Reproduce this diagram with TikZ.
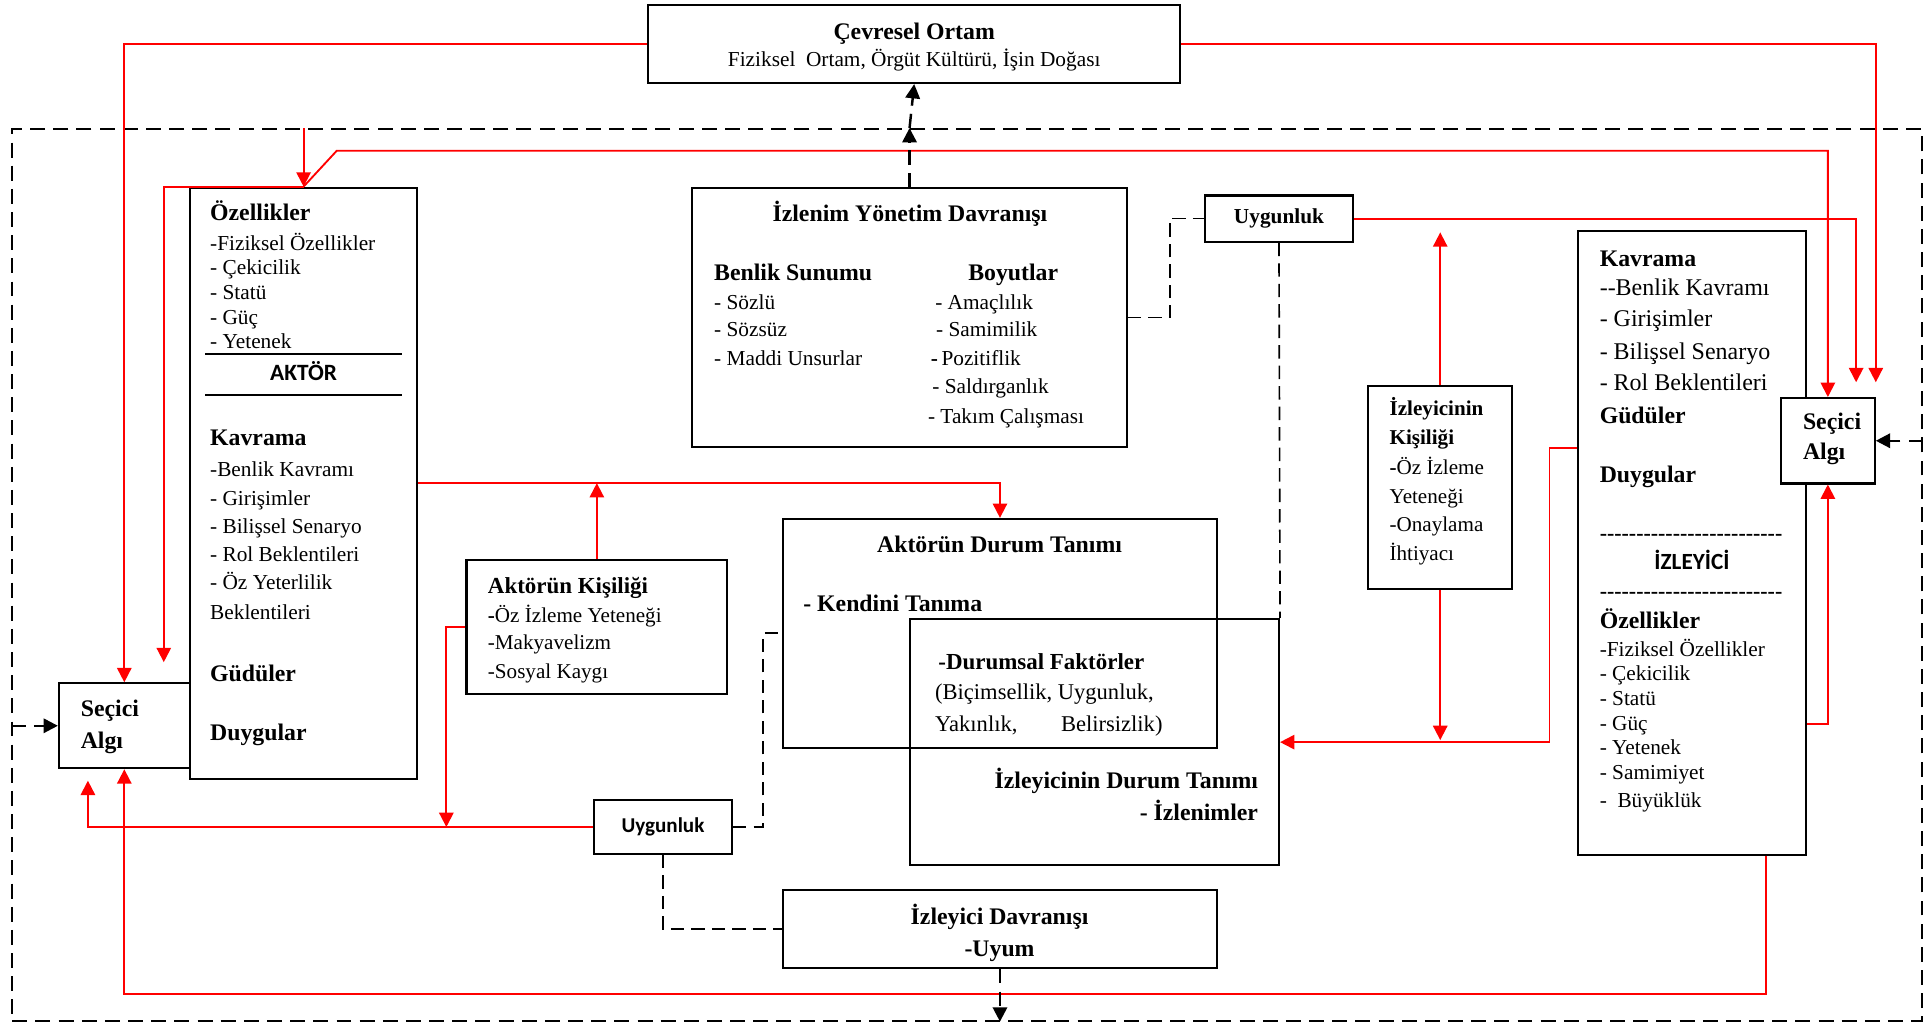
\documentclass[tikz,border=0pt]{standalone}
\usepackage{fontspec}
\setmainfont{Liberation Serif}
\newfontfamily\calfont{Carlito}
\usetikzlibrary{arrows.meta}
\begin{document}
\begin{tikzpicture}[x=0.6pt,y=-0.6pt,
  box/.style={draw,line width=1pt,rectangle,inner sep=0pt,fill=white},
  plainbox/.style={draw,line width=1pt,rectangle,inner sep=0pt},
  sz/.style 2 args={minimum width=#1*0.6pt,minimum height=#2*0.6pt},
  headed/.style={-{Triangle[length=7pt,width=7pt]}},
  rarr/.style={draw=red,line width=0.9pt,headed},
  lnk/.style={draw=black,line width=0.8pt,dash pattern=on 6.5pt off 3.5pt},
  flow/.style={draw=black,line width=1.2pt,dash pattern=on 7pt off 4pt,headed},
  tx/.style={inner sep=0pt,anchor=base west,font=\fontsize{10.4}{12}\selectfont},
  tb/.style={inner sep=0pt,anchor=base west,font=\fontsize{11.6}{13}\selectfont\bfseries},
  sep/.style={line width=1pt},
]
\useasboundingbox (0,0) rectangle (1568,832);

% outer dashed frame
\node[plainbox,dash pattern=on 7.3pt off 4pt,sz={1553}{725}] (outer) at (786.5,467.5) {};

% boxes
\node[box,sz={433}{63.5}] (cevre) at (743.5,35.75) {};
\node[box,sz={353.4}{210.1}] (izyon) at (739.7,258.25) {};
\node[box,sz={120.3}{37.6},font=\fontsize{10.4}{12}\selectfont\bfseries] (uyg1) at (1040.15,177.8) {Uygunluk};
\node[box,sz={185.2}{480.6}] (aktor) at (246.9,392.9) {};
\node[box,sz={106.4}{69.1}] (secL) at (101.1,590.25) {};
\node[box,sz={212}{109}] (akkis) at (485.4,509.9) {};
\node[box,sz={112.5}{43.8},font=\calfont\bfseries\fontsize{10.3}{12}\selectfont] (uyg2) at (539.15,672.6) {Uygunluk};
\node[plainbox,sz={352.9}{186}] (akdur) at (813.25,515) {};
\node[plainbox,sz={299.9}{200.5}] (izdur) at (890.25,603.55) {};
\node[box,sz={352.9}{63.5}] (izdav) at (813.25,755.55) {};
\node[box,sz={117.4}{165.5}] (izkis) at (1171.3,396.45) {};
\node[box,sz={185.1}{507.1}] (izleyici) at (1376.25,441.45) {};
\node[box,sz={76.3}{69.5}] (secR) at (1486.55,358.45) {};

% Cevresel Ortam
\node[tb,anchor=base] (cevT) at (743.5,32) {Çevresel Ortam};
\node[tx,anchor=base] (cevS) at (743.5,54.2) {Fiziksel\ \ Ortam, Örgüt Kültürü, İşin Doğası};

% Izlenim Yonetim Davranisi
\node[tb,anchor=base] (izyT) at (740,180) {İzlenim Yönetim Davranışı};
\node[tb] (izyB) at (580.5,228.5) {Benlik Sunumu};
\node[tb,anchor=base] (izyD) at (824,228.5) {Boyutlar};
\foreach \yy/\s [count=\i] in {251.4/- Sözlü, 273.9/- Sözsüz, 296.9/- Maddi Unsurlar}
  \node[tx] (izyL\i) at (580.5,\yy) {\s};
\node[tx] (izyR1) at (760.3,251.4) {- Amaçlılık};
\node[tx] (izyR2) at (761,273.9) {- Samimilik};
\node[tx] (izyR3) at (756.7,296.9) {\textbf{-}\,Pozitiflik};
\node[tx] (izyR4) at (758,320) {- Saldırganlık};
\node[tx] (izyR5) at (754.4,344.4) {- Takım Çalışması};

% actor column
\node[tb] (akO) at (170.6,179.5) {Özellikler};
\foreach \yy/\s [count=\i] in {203.5/-Fiziksel Özellikler, 223.5/- Çekicilik, 243.5/- Statü, 263.5/- Güç, 283.5/- Yetenek}
  \node[tx] (akOL\i) at (170.6,\yy) {\s};
\draw[sep] (167,288) -- (326.8,288);
\node[inner sep=0pt,anchor=base,font=\calfont\bfseries\fontsize{11.4}{13}\selectfont] (aktLbl) at (246.9,309.6) {AKTÖR};
\draw[sep] (167,321) -- (326.8,321);
\node[tb] (akK) at (170.6,362.5) {Kavrama};
\foreach \yy/\s [count=\i] in {387.3/-Benlik Kavramı, 411.5/- Girişimler, 434.1/- Bilişsel Senaryo, 456.9/- Rol Beklentileri, 479.5/- Öz Yeterlilik, 503.5/Beklentileri}
  \node[tx] (akKL\i) at (170.6,\yy) {\s};
\node[tb] (akG) at (170.6,554.5) {Güdüler};
\node[tb] (akD) at (170.6,602.5) {Duygular};

% selective perception boxes
\node[tb] (secL1) at (65.4,583.1) {Seçici};
\node[tb] (secL2) at (65.4,608.5) {Algı};
\node[tb] (secR1) at (1466,349.5) {Seçici};
\node[tb] (secR2) at (1466,373.5) {Algı};

% actor personality
\node[tb,font=\fontsize{11.2}{13}\selectfont\bfseries] (akkT) at (396.5,482.7) {Aktörün Kişiliği};
\node[tx,font=\fontsize{10.3}{12}\selectfont] (akk1) at (396.5,505.9) {\textbf{-}Öz İzleme Yeteneği};
\node[tx,font=\fontsize{10.3}{12}\selectfont] (akk2) at (396.5,528.5) {-Makyavelizm};
\node[tx,font=\fontsize{10.3}{12}\selectfont] (akk3) at (396.5,552.1) {-Sosyal Kaygı};

% situation definitions
\node[tb,anchor=base] (adT) at (812.9,449.7) {Aktörün Durum Tanımı};
\node[tb] (adK) at (653,497.3) {- Kendini Tanıma};
\node[tb,font=\fontsize{11.2}{13}\selectfont\bfseries] (idF) at (762.8,544.5) {-Durumsal Faktörler};
\node[tx,font=\fontsize{11}{13}\selectfont] (idF1) at (760.2,569.1) {(Biçimsellik, Uygunluk,};
\node[tx,font=\fontsize{11}{13}\selectfont] (idF2) at (760.2,594.8) {Yakınlık,};
\node[tx,font=\fontsize{11}{13}\selectfont] (idF3) at (862.6,594.8) {Belirsizlik)};
\node[tb,anchor=base east] (idT) at (1023.4,641.5) {İzleyicinin Durum Tanımı};
\node[tb,anchor=base east] (idI) at (1023.4,667.1) {- İzlenimler};

% audience behaviour
\node[tb,anchor=base] (dvT) at (812.9,751.5) {İzleyici Davranışı};
\node[tb,anchor=base] (dvU) at (812.9,778.1) {-Uyum};

% audience personality
\node[tb,font=\fontsize{10.3}{12}\selectfont\bfseries] (ikT1) at (1129.8,338.3) {İzleyicinin};
\node[tb,font=\fontsize{10.3}{12}\selectfont\bfseries] (ikT2) at (1129.8,361.9) {Kişiliği};
\node[tx,font=\fontsize{10.3}{12}\selectfont] (ik1) at (1129.8,386.3) {\textbf{-}Öz İzleme};
\node[tx,font=\fontsize{10.3}{12}\selectfont] (ik2) at (1129.8,409.4) {Yeteneği};
\node[tx,font=\fontsize{10.3}{12}\selectfont] (ik3) at (1129.8,432.4) {-Onaylama};
\node[tx,font=\fontsize{10.3}{12}\selectfont] (ik4) at (1129.8,456) {İhtiyacı};

% audience column
\node[tb] (izK) at (1300.7,216.5) {Kavrama};
\foreach \yy/\s [count=\i] in {240.5/-{}-Benlik Kavramı, 265.7/- Girişimler, 292/- Bilişsel Senaryo, 317.7/- Rol Beklentileri}
  \node[tx,font=\fontsize{11.7}{13}\selectfont] (izKL\i) at (1300.7,\yy) {\s};
\node[tb] (izG) at (1300.7,344.8) {Güdüler};
\node[tb] (izD) at (1300.7,392) {Duygular};
\node[tx,font=\fontsize{10.7}{12}\selectfont\bfseries] (izS1) at (1300.7,439.3) {-{}-{}-{}-{}-{}-{}-{}-{}-{}-{}-{}-{}-{}-{}-{}-{}-{}-{}-{}-{}-{}-{}-{}-{}-{}};
\node[inner sep=0pt,anchor=base,font=\calfont\bfseries\fontsize{11.3}{13}\selectfont] (izLbl) at (1376,463.3) {İZLEYİCİ};
\node[tx,font=\fontsize{10.7}{12}\selectfont\bfseries] (izS2) at (1300.7,486.8) {-{}-{}-{}-{}-{}-{}-{}-{}-{}-{}-{}-{}-{}-{}-{}-{}-{}-{}-{}-{}-{}-{}-{}-{}-{}};
\node[tb] (izO) at (1300.7,510.8) {Özellikler};
\foreach \yy/\s [count=\i] in {534.1/-Fiziksel Özellikler, 553.5/- Çekicilik, 573.8/- Statü, 594.1/- Güç, 613.8/- Yetenek, 634.1/- Samimiyet, 656.8/-\ \ Büyüklük}
  \node[tx] (izOL\i) at (1300.7,\yy) {\s};

% free ends of connectors
\coordinate (aktTip) at (133.2,538.5);
\coordinate (uygTip) at (71.5,634.9);
\coordinate (akkTip) at (363,672.6);
\coordinate (izUp) at (1171.3,189);

% red influence arrows
\draw[rarr] (cevre.west) -| (secL.north);
\draw[rarr,shorten >=7.2pt] (cevre.east) -| (secR.north east);
\draw[rarr] (outer.north -| aktor.north) -- (aktor.north);
\draw[rarr] (aktor.north) -- ++(27,-29.2) -| (secR.north);
\draw[rarr] (aktor.north) -| (aktTip);
\draw[rarr,shorten >=7.2pt] (uyg1.east) -| ([xshift=-9.6pt]secR.north east);
\draw[rarr] (aktor.east) -| (akdur.north);
\draw[rarr] (akkis.north) -- (akkis.north |- aktor.east);
\draw[rarr] (akkis.west) -| (akkTip);
\draw[rarr] (uyg2.west) -| (uygTip);
\draw[rarr] ([xshift=35.85pt]izleyici.south) -- ++(0,112.6) -| (secL.south);
\draw[rarr] (izkis.north) -- (izUp);
\draw[rarr,shorten >=1pt] (izkis.south) -- (izkis.south |- izdur.east);
\draw[rarr] ([yshift=46.41pt]izleyici.west) -- ++(-22.7,0) |- (izdur.east);
\draw[rarr] ([yshift=-88.29pt]izleyici.east) -| (secR.south);

% black dashed flows
\draw[flow] (outer.west |- secL.west) -- (secL.west);
\draw[flow] (outer.east |- secR.east) -- (secR.east);
\draw[flow] (izyon.north) -- (izyon.north |- outer.north);
\draw[flow] (izyon.north |- outer.north) -- (cevre.south);
\draw[flow] (izdav.south) -- (izdav.south |- outer.south);
\draw[lnk] (izyon.east) -- ++(34.3,0) |- (uyg1.west);
\draw[lnk] (uyg1.south) -- (izdur.north east);
\draw[lnk] (uyg2.east) -- ++(24.3,0) |- (akdur.west);
\draw[lnk] (uyg2.south) |- (izdav.west);
\end{tikzpicture}
\end{document}
